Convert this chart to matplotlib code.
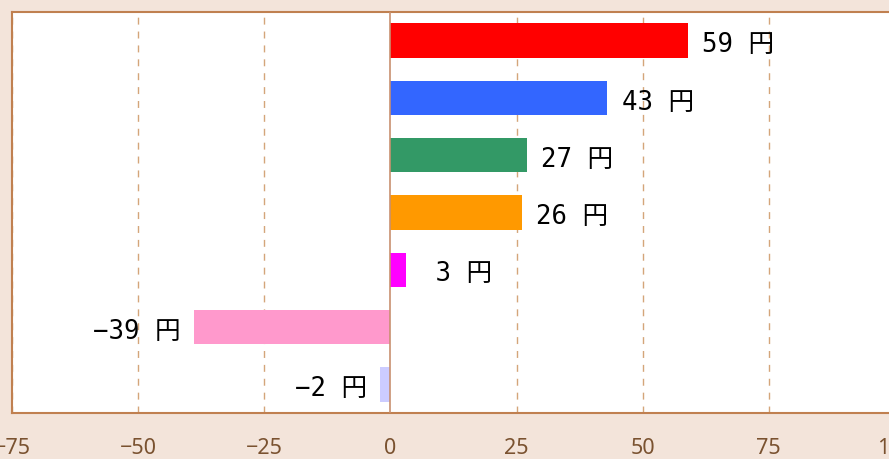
import matplotlib
matplotlib.use("Agg")
import matplotlib.pyplot as plt

values = [59, 43, 27, 26, 3, -39, -2]
colors = ["#ff0000", "#3366ff", "#339966", "#ff9900", "#ff00ff", "#ff99cc", "#ccccff"]
xticks = [-75, -50, -25, 0, 25, 50, 75, 100]
unit = "円"

plt.rcParams['font.family'] = ['Noto Sans CJK JP', 'DejaVu Sans']

bg = "#f3e4da"
brown = "#c08050"
fig = plt.figure(figsize=(8.89, 4.59), dpi=100, facecolor=bg)
ax = fig.add_axes([12/889, 1-413/459, 883/889, 401/459])
ax.set_facecolor("white")

ypos = list(range(len(values)))
ax.barh(ypos, values, height=0.6, color=colors, zorder=3)
ax.set_ylim(len(values)-0.5, -0.5)
ax.set_xlim(-75, 100)
ax.set_xticks(xticks)
ax.set_yticks([])
for x in xticks:
    if x == 0:
        ax.axvline(x, color="#c89070", lw=1.2, zorder=4)
    else:
        ax.axvline(x, color="#d4a57a", lw=1.0, ls=(0, (5, 5)), zorder=1)
for s in ax.spines.values():
    s.set_color(brown)
    s.set_linewidth(1.5)
ax.tick_params(axis='x', length=0, pad=18, labelsize=15.5, labelcolor="#7a5230")
for lab in ax.get_xticklabels():
    lab.set_family(['Noto Sans', 'DejaVu Sans'])

lab_font = ['DejaVu Sans Mono', 'Noto Sans CJK JP']
for y, v in zip(ypos, values):
    if v >= 0:
        txt = f"{v:>2d} {unit}"
        ax.text(v + 2.8, y + 0.08, txt, ha='left', va='center', fontsize=18.5,
                color="black", family=lab_font, zorder=5)
    else:
        ax.text(v - 2.5, y + 0.08, f"\u2212{abs(v)} {unit}", ha='right', va='center',
                fontsize=18.5, color="black", family=lab_font, zorder=5)

fig.savefig("out.png", dpi=100, facecolor=bg)
